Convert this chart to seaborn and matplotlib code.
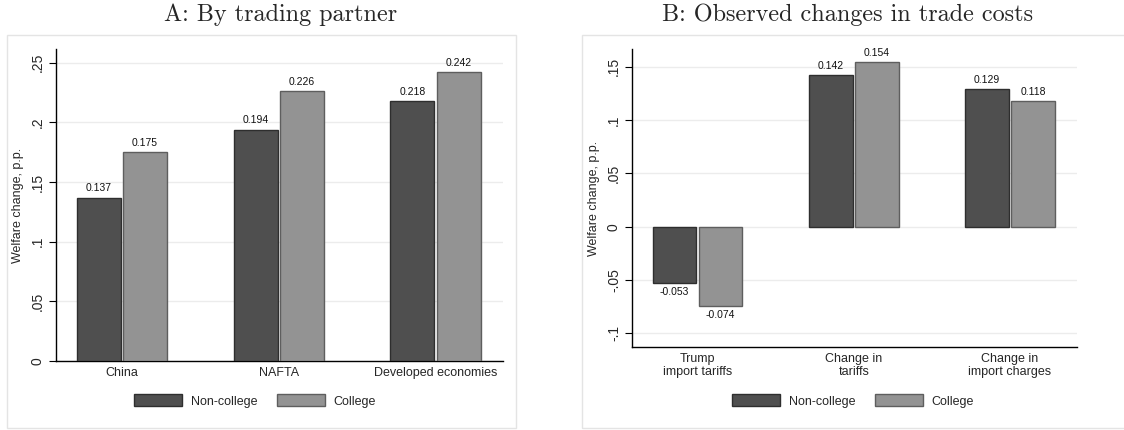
import matplotlib
matplotlib.use("Agg")
import matplotlib.pyplot as plt
from matplotlib.patches import Rectangle, Patch
import seaborn as sns
import pandas as pd

# ---- data ----
groups = ["Non-college", "College"]
cats_a = ["China", "NAFTA", "Developed economies"]
noncollege_a = [0.137, 0.194, 0.218]
college_a = [0.175, 0.226, 0.242]
yticks_a = [0, 0.05, 0.10, 0.15, 0.20, 0.25]
yticklabels_a = ["0", ".05", ".1", ".15", ".2", ".25"]

cats_b = ["Trump\nimport tariffs", "Change in\ntariffs", "Change in\nimport charges"]
noncollege_b = [-0.053, 0.142, 0.129]
college_b = [-0.074, 0.154, 0.118]
yticks_b = [-0.10, -0.05, 0, 0.05, 0.10, 0.15]
yticklabels_b = ["-.1", "-.05", "0", ".05", ".1", ".15"]

title_a = "A: By trading partner"
title_b = "B: Observed changes in trade costs"
ylabel = "Welfare change, p.p."

fill_colors = ["#4f4f4f", "#939393"]
edge_colors = ["#2e2e2e", "#5e5e5e"]

sns.set_theme(style="white")
plt.rcParams["font.family"] = ["Liberation Sans", "DejaVu Sans"]

fig = plt.figure(figsize=(11.24, 4.30), dpi=100)

# light outer plot-region boxes
W, H = 1124, 430
for (x0, y0, x1, y1) in [(7, 35, 516, 428), (582, 35, 1130, 428)]:
    fig.patches.append(Rectangle((x0 / W, 1 - y1 / H), (x1 - x0) / W, (y1 - y0) / H,
                                 transform=fig.transFigure, fill=False,
                                 edgecolor="#e4e4e4", linewidth=1.0, zorder=0))

ax_a = fig.add_axes([56 / W, 1 - 361 / H, (503 - 56) / W, (361 - 49) / H])
ax_b = fig.add_axes([632 / W, 1 - 347 / H, (1077 - 632) / W, (347 - 49) / H])


def draw(ax, cats, nc, c, yticks, ylabels, ylim, title, title_x):
    df = pd.DataFrame({
        "cat": cats * 2,
        "val": nc + c,
        "grp": [groups[0]] * len(cats) + [groups[1]] * len(cats),
    })
    sns.barplot(data=df, x="cat", y="val", hue="grp", order=cats, hue_order=groups,
                palette=fill_colors, width=0.59, gap=0.05, ax=ax, legend=False,
                saturation=1, zorder=3)
    for cont, ec in zip(ax.containers, edge_colors):
        for p in cont:
            p.set_edgecolor(ec)
            p.set_linewidth(1.0)
        ax.bar_label(cont, fmt="%.3f", padding=3, fontsize=7.5, color="#111111")
    ax.set_xlim(-0.42, 2.43)
    ax.set_ylim(*ylim)
    ax.set_yticks(yticks)
    ax.set_yticklabels(ylabels, rotation=90, va="center", fontsize=10)
    ax.tick_params(axis="y", which="major", left=True, length=5, width=0.8,
                   color="black", pad=3)
    ax.tick_params(axis="x", length=0, labelsize=9, pad=4)
    ax.set_xlabel("")
    ax.set_ylabel(ylabel, fontsize=9, labelpad=5)
    ax.yaxis.grid(True, color="#ececec", linewidth=1.0, zorder=0)
    ax.xaxis.grid(False)
    ax.set_axisbelow(True)
    for s in ["top", "right"]:
        ax.spines[s].set_visible(False)
    for s in ["left", "bottom"]:
        ax.spines[s].set_color("black")
        ax.spines[s].set_linewidth(1.0)
    fig.text(title_x / W, 1 - 15 / H, title, ha="center", va="center",
             fontsize=17.4, family="cmr10")


draw(ax_a, cats_a, noncollege_a, college_a, yticks_a, yticklabels_a,
     (0, 0.2615), title_a, 281)
draw(ax_b, cats_b, noncollege_b, college_b, yticks_b, yticklabels_b,
     (-0.1128, 0.1666), title_b, 848)

# legends
handles = [Patch(facecolor=f, edgecolor=e, linewidth=1.0) for f, e in zip(fill_colors, edge_colors)]
for cx in (255, 853):
    fig.legend(handles, groups, loc="center", bbox_to_anchor=(cx / W, 1 - 401 / H),
               ncol=2, frameon=False, fontsize=9, handlelength=3.8, handleheight=1.1,
               handletextpad=0.7, columnspacing=1.6)

fig.savefig("out.png", dpi=100, facecolor="white")
